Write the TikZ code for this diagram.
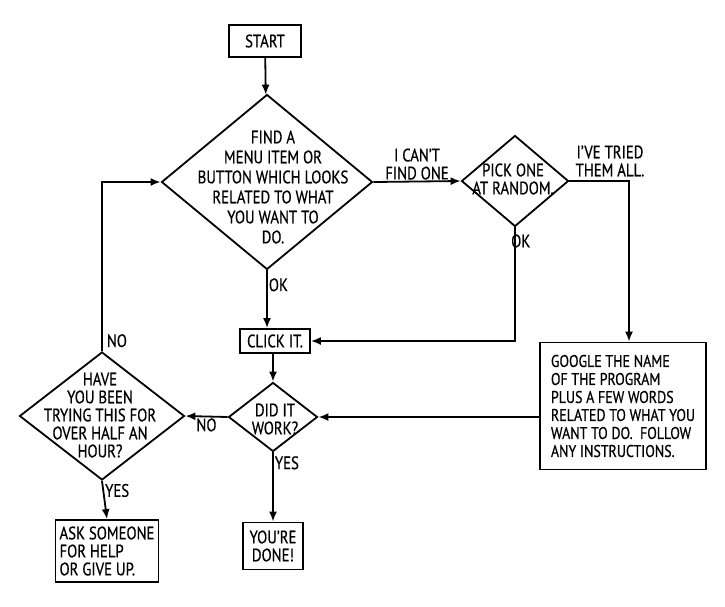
\documentclass[tikz,border=0pt]{standalone}
\usepackage{fontspec}
\setmainfont[FakeStretch=0.82, FakeBold=0.6]{PT Sans}
\usetikzlibrary{shapes.geometric,arrows.meta}

\tikzset{
  box/.style={draw, line width=1.8pt, inner sep=0pt},
  decision/.style={draw, diamond, line width=1.8pt, inner sep=0pt},
  note/.style={align=center, inner sep=1pt},
  flow/.style={->, line width=1.8pt},
}

\begin{document}
\begin{tikzpicture}[x=1pt, y=-1pt, >={Latex[length=10pt,width=8pt]},
  font=\fontsize{18}{18}\selectfont]
\useasboundingbox (0,0) rectangle (725,606);
% boxes
\node[box, minimum width=72, minimum height=32] (start) at (265,41) {START};
\node[box, minimum width=70, minimum height=24] (click) at (275,341) {CLICK IT.};
\node[box, minimum width=103, minimum height=62, align=left] (ask) at (107,551)
  {ASK SOMEONE\\FOR HELP\\OR GIVE UP.};
\node[box, minimum width=60, minimum height=47, align=center] (done) at (273,546)
  {YOU'RE\\DONE!};
\node[box, minimum width=166, minimum height=127, align=left,
  font=\fontsize{17}{18}\selectfont] (google) at (623,406)
  {GOOGLE THE NAME\\OF THE PROGRAM\\PLUS A FEW WORDS\\RELATED TO WHAT YOU\\WANT TO DO.\ \ FOLLOW\\ANY INSTRUCTIONS.};
% decisions
\node[decision, minimum width=211, minimum height=175] (find) at (267,182) {};
\node[note, font=\fontsize{18}{20}\selectfont] (findtext) at (273,187)
  {FIND A\\MENU ITEM OR\\BUTTON WHICH LOOKS\\RELATED TO WHAT\\YOU WANT TO\\DO.};
\node[decision, minimum width=107, minimum height=91] (pick) at (515,181) {};
\node[note] (picktext) at (513,179) {PICK ONE\\AT RANDOM.};
\node[decision, minimum width=89, minimum height=69] (work) at (273,417) {};
\node[note] (worktext) at (275,419) {DID IT\\WORK?};
\node[decision, minimum width=165, minimum height=128] (have) at (102,416) {};
\node[note] (havetext) at (100,415)
  {HAVE\\YOU BEEN\\TRYING THIS FOR\\OVER HALF AN\\HOUR?};
% connectors
\draw[flow] (start) -- (find);
\draw[flow] (find.east) -- node[note, above] {I CAN'T\\FIND ONE} (pick.west);
\draw[flow] (find.south) -- node[note, right, pos=0.25] {OK} (find.south |- click.north);
\draw[flow] (pick.south) |- (click.east);
\node[note, right] at (510,241) {OK};
\draw[flow] (pick.east) -| ([xshift=6]google.north);
\node[note] at (610,161) {I'VE TRIED\\THEM ALL.};
\draw[flow] (click.south -| work.north) -- (work.north);
\draw[flow] (work.west) -- node[note, below] {NO} (have.east);
\draw[flow] (work.south) -- node[note, right, pos=0.15] {YES} (done.north);
\draw[flow] (google.west |- work.east) -- (work.east);
\draw[flow] (have.north) |- node[note, pos=0, anchor=south west, xshift=3, yshift=2] {NO} (find.west);
\draw[flow] (have.south) -- node[note, right, pos=0.25] {YES} (ask.north);
\end{tikzpicture}
\end{document}
